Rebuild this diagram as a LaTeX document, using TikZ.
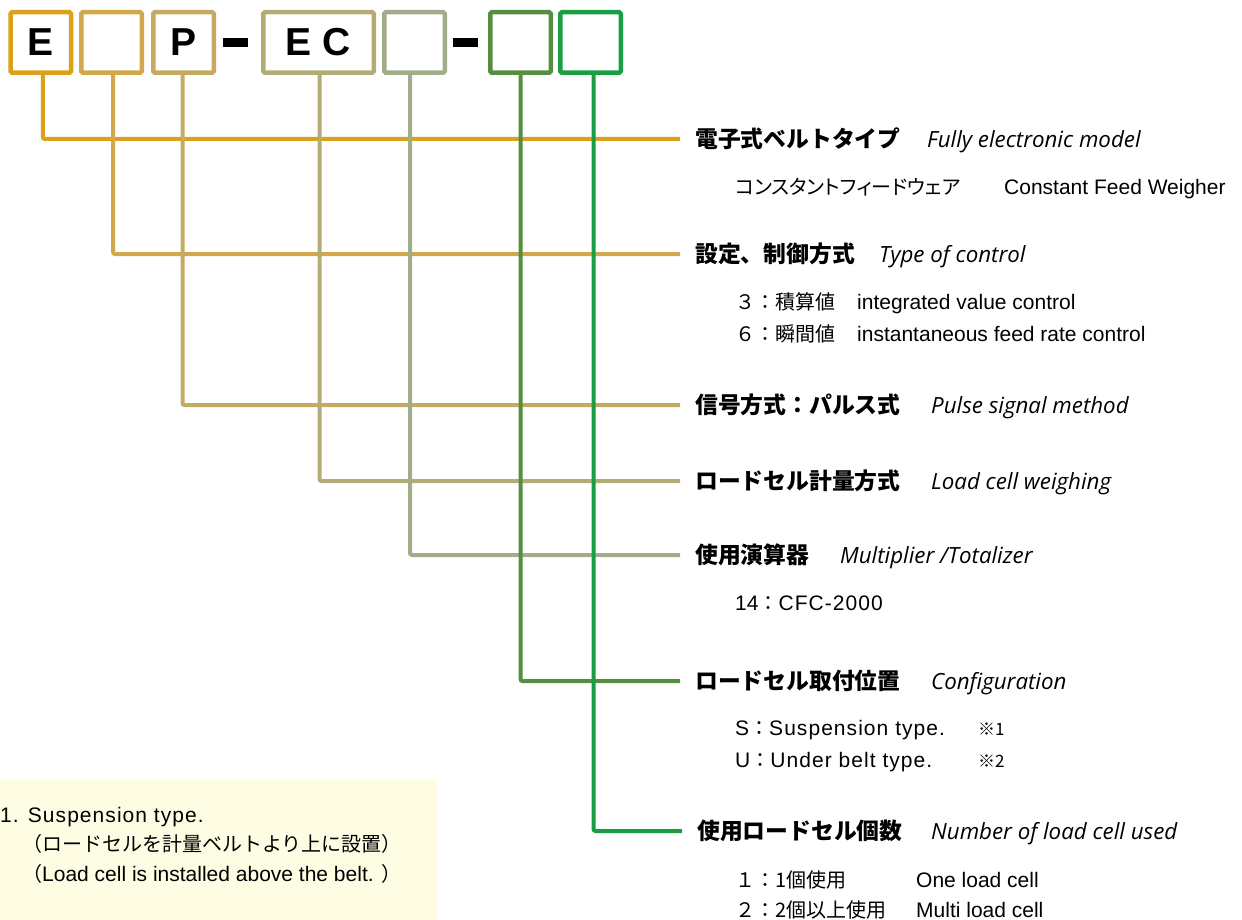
\documentclass[tikz,border=0pt]{standalone}
\usepackage{fontspec}
\setmainfont{Liberation Sans}
\newfontfamily\widefont{Liberation Sans}[LetterSpace=5]
\newfontfamily\jpfont{Noto Sans CJK JP}
\newfontfamily\jppfont{Noto Sans CJK JP}[RawFeature=+palt]
\newfontfamily\itfont{Open Sans}
\usepackage{xcolor}
\usetikzlibrary{positioning}

\definecolor{cType}{HTML}{DBA11B}
\definecolor{cCtrl}{HTML}{D3A84A}
\definecolor{cSig}{HTML}{C5AA62}
\definecolor{cLoad}{HTML}{B3AC77}
\definecolor{cCalc}{HTML}{A1AD88}
\definecolor{cConf}{HTML}{568D3F}
\definecolor{cNum}{HTML}{1B9E43}
\definecolor{notebg}{HTML}{FFFCE4}

\newcommand\jpsub[1]{{\jpfont\fontsize{20}{25}\selectfont #1}}

\begin{document}
\begin{tikzpicture}[x=1pt,y=-1pt,
	codebox/.style={draw=#1,line width=4.5pt,rounded corners=1.5pt,minimum width=60.5pt,minimum height=60.5pt,inner sep=0pt,font=\fontsize{39}{39}\selectfont\bfseries},
	link/.style={draw=#1,line width=4pt,rounded corners=2pt},
	head/.style={anchor=west,inner sep=0pt,font=\jpfont\bfseries\fontsize{22.8}{26}\selectfont},
	eng/.style={anchor=base west,inner sep=0pt,font=\itfont\itshape\fontsize{22.3}{25}\selectfont},
	sub/.style={anchor=base west,inner sep=0pt,font=\fontsize{21}{25}\selectfont},
	notemark/.style={anchor=base west,inner sep=0pt,font=\jpfont\fontsize{17}{20}\selectfont}]
	\useasboundingbox (0,0) rectangle (1242,920);
	\node[codebox=cType] (bType) at (40.8,42.5) {E};
	\node[codebox=cCtrl] (bCtrl) at (111.5,42.5) {};
	\node[codebox=cSig] (bSig) at (183.5,42.5) {P};
	\node[codebox=cLoad,minimum width=110.5pt] (bLoad) at (318.5,42.5) {E C};
	\node[codebox=cCalc] (bCalc) at (414.5,42.5) {};
	\node[codebox=cConf] (bConf) at (520.5,42.5) {};
	\node[codebox=cNum] (bNum) at (590.5,42.5) {};
	\fill (223,38) rectangle (248,47);
	\fill (453,38) rectangle (478,47);

	\node[head] (hType) at (695,139) {電子式ベルトタイプ};
	\node[eng] (eType) at (927,0 |- hType.base) {Fully electronic model};
	\node[sub] (sType) at (735,195) {{\jppfont\fontsize{20}{25}\selectfont コンスタントフィードウェア}};
	\node[sub] (sTypeEn) at (1004,195) {Constant Feed Weigher};

	\node[head] (hCtrl) at (695,254) {設定、制御方式};
	\node[eng] (eCtrl) at (879,0 |- hCtrl.base) {Type of control};
	\node[sub] (sCtrlA) at (735,309) {\jpsub{３：積算値}};
	\node[sub] (sCtrlAEn) at (857,309) {integrated value control};
	\node[sub] (sCtrlB) at (735,341) {\jpsub{６：瞬間値}};
	\node[sub] (sCtrlBEn) at (857,341) {instantaneous feed rate control};

	\node[head] (hSig) at (695,405) {信号方式：パルス式};
	\node[eng] (eSig) at (931,0 |- hSig.base) {Pulse signal method};

	\node[head] (hLoad) at (695,481) {ロードセル計量方式};
	\node[eng] (eLoad) at (931,0 |- hLoad.base) {Load cell weighing};

	\node[head] (hCalc) at (695,555) {使用演算器};
	\node[eng] (eCalc) at (840,0 |- hCalc.base) {Multiplier /Totalizer};
	\node[sub] (sCalc) at (735,610) {14\jpsub{：}{\widefont CFC-2000}};

	\node[head] (hConf) at (695,681) {ロードセル取付位置};
	\node[eng] (eConf) at (931,0 |- hConf.base) {Configuration};
	\node[sub] (sConfS) at (735,735) {S\jpsub{：}{\widefont Suspension type.}};
	\node[notemark] (sConfSN) at (978,735) {※1};
	\node[sub] (sConfU) at (735,767) {U\jpsub{：}{\widefont Under belt type.}};
	\node[notemark] (sConfUN) at (978,767) {※2};

	\node[head] (hNum) at (697,831) {使用ロードセル個数};
	\node[eng] (eNum) at (931,0 |- hNum.base) {Number of load cell used};
	\node[sub] (sNumA) at (735,887) {\jpsub{１：1個使用}};
	\node[sub] (sNumAEn) at (916,887) {One load cell};
	\node[sub] (sNumB) at (735,917) {\jpsub{２：2個以上使用}};
	\node[sub] (sNumBEn) at (916,917) {Multi load cell};

	\draw[link=cType] ([xshift=2pt]bType.south) |- ([xshift=-15pt]hType.west);
	\draw[link=cCtrl] ([xshift=1.5pt]bCtrl.south) |- ([xshift=-15pt]hCtrl.west);
	\draw[link=cSig] ([xshift=-1pt]bSig.south) |- ([xshift=-15pt]hSig.west);
	\draw[link=cLoad] ([xshift=1pt]bLoad.south) |- ([xshift=-15pt]hLoad.west);
	\draw[link=cCalc] ([xshift=-4.5pt]bCalc.south) |- ([xshift=-15pt]hCalc.west);
	\draw[link=cConf] (bConf.south) |- ([xshift=-15pt]hConf.west);
	\draw[link=cNum] ([xshift=3pt]bNum.south) |- ([xshift=-15pt]hNum.west);

	\fill[notebg] (0,780) rectangle (437,920);
	\node[sub] (nA) at (0,822) {\widefont 1. Suspension type.};
	\node[sub] (nB) at (22,851) {\jpsub{（ロードセルを計量ベルトより上に設置）}};
	\node[sub] (nC) at (22,881) {\jpsub{（}Load cell is installed above the belt. \jpsub{）}};
\end{tikzpicture}
\end{document}
